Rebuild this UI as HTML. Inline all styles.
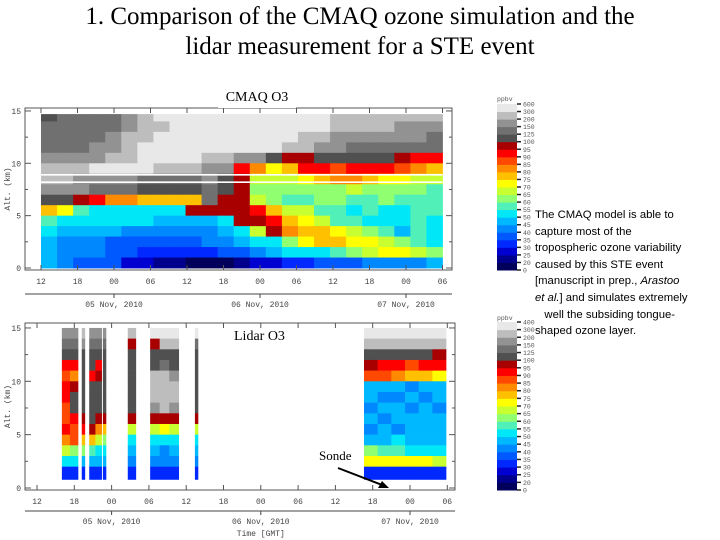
<!DOCTYPE html>
<html><head><meta charset="utf-8"><style>
body{margin:0;background:#fff;width:720px;height:540px;overflow:hidden;position:relative;font-family:"Liberation Serif",serif}
.title{position:absolute;left:0;width:720px;text-align:center;font-size:25px;color:#000;line-height:30px;top:2px}
.note{position:absolute;left:535px;top:207px;font-family:"Liberation Sans",sans-serif;font-size:11.3px;line-height:16.6px;color:#000;white-space:nowrap}
svg{position:absolute;left:0;top:0}
</style></head><body>
<div class="title">1. Comparison of the CMAQ ozone simulation and the<br>lidar measurement for a STE event</div>
<div class="note">The CMAQ model is able to<br>capture most of the<br>tropospheric ozone variability<br>caused by this STE event<br>[manuscript in prep., <i>Arastoo</i><br><i>et al.</i>] and simulates extremely<br>&nbsp;&nbsp;&nbsp;well the subsiding tongue-<br>shaped ozone layer.</div>
<svg id="svg" width="720" height="540" xmlns="http://www.w3.org/2000/svg"></svg>
<script>
const levelColors=["#00005a","#00008c","#0000d0","#0028ff","#0058ff","#0088ff","#00b8ff","#00e8f8","#50f0b8","#90ff70","#c8ff30","#ffff00","#ffc000","#ff8a00","#ff4800","#ff0000","#a80000","#505050","#707070","#929292","#bdbdbd","#e8e8e8"];
const levelChars="0123456789ABCDEFGHIJKL";
const topLabels=["600","300","200","150","125","100","95","90","85","80","75","70","65","60","55","50","45","40","35","30","25","20","0"];
const botLabels=["400","300","200","150","125","100","95","90","85","80","75","70","65","60","55","50","45","40","35","30","25","20","0"];
const timeTicks=["12","18","00","06","12","18","00","06","12","18","00","06"];
const dateLabels=["05 Nov, 2010","06 Nov, 2010","07 Nov, 2010"];
const altTicks=[0,5,10,15];
const cmaqRows=[
"HIIIIJKLLLLLLLLLLLKKKKKKK",
"IIIIIJKKLLLLLLLLLLKKKKJJJ",
"IIIIJKKLLLLLLLLLKKJJJJJJI",
"IIIJJKLLLLLLLLLKKJJIIIIII",
"JJJJKKLLLLKKJJHGGHHHHHGFF",
"KKKLLLLKKKJJFDBCFFEFFFEDC",
"KKJJJJIIIIJHGAAABCDDCBBAA",
"JJJIIIHHHHIHG999999A99998",
"HHGFDDCCCCIGGA98899889888",
"CB8777777GGGGFCAA88787788",
"877777766667GGFCBA8877787",
"7666655555567AGDCCBA98687",
"6555444444556779BCCBBA987",
"65554433333445677789ABBA9",
"6544422110001223344455556"];
const lidarSegments=[
[4.0,6.6,["JIHFEFFEEFDA73","JIHFDGHHFEE973"]],
[7.2,7.7,["KJHHHHHHGFC963"]],
[8.4,10.4,["JIHHFHHHHGC863","JIHFGHHHGDA763"]],
[10.6,11.1,["JIHHHHHHGC9763"]],
[14.6,15.9,["KGHHHHHHGA7653"]],
[18.2,22.8,["LGHHKKKJGA7653","LKHIKKKKGB7553","LKHHJKKJGA7653"]],
[25.4,25.9,["LIHHHHHHGA7653"]],
[52.6,65.8,["LKHGE6656569B3","LKHFE6565668B3","LKHFD6566578B3","LKHEC5656667B3","LKHFC6566667B3","LKGFB6656667A3"]]
];
const S=document.getElementById('svg');
const NS="http://www.w3.org/2000/svg";
function mk(tag,attrs,parent){const e=document.createElementNS(NS,tag);for(const k in attrs)e.setAttribute(k,attrs[k]);(parent||S).appendChild(e);return e;}
function col(ch){return levelColors[levelChars.indexOf(ch)];}

function drawAxes(g,box,xOf,yOf,dateY,showTime){
  const f=mk('rect',{x:box.x0,y:box.y0,width:box.x1-box.x0,height:box.y1-box.y0,fill:'none',stroke:'#555','stroke-width':1},g);
  
  altTicks.forEach(a=>{const y=yOf(a);
    mk('line',{x1:box.x0,x2:box.x0+6,y1:y,y2:y,stroke:'#555'},g);
    mk('line',{x1:box.x1,x2:box.x1-6,y1:y,y2:y,stroke:'#555'},g);
    const t=mk('text',{x:box.x0-4,y:y+3,'font-size':8,'text-anchor':'end',fill:'#444','font-family':'Liberation Mono,monospace'},g);
    t.textContent=a;
    if(a<15){const y2=yOf(a+2.5);mk('line',{x1:box.x0,x2:box.x0+3,y1:y2,y2:y2,stroke:'#555'},g);mk('line',{x1:box.x1,x2:box.x1-3,y1:y2,y2:y2,stroke:'#555'},g);}
  });
  timeTicks.forEach((lab,i)=>{const x=xOf(i*6);
    mk('line',{x1:x,x2:x,y1:box.y1,y2:box.y1-5,stroke:'#555'},g);
    mk('line',{x1:x,x2:x,y1:box.y0,y2:box.y0+5,stroke:'#555'},g);
    const t=mk('text',{x:x,y:box.y1+14,'font-size':8,'text-anchor':'middle',fill:'#444','font-family':'Liberation Mono,monospace'},g);
    t.textContent=lab;
  });
  mk('line',{x1:box.x0,x2:box.x1,y1:dateY,y2:dateY,stroke:'#444'},g);
  [12,36,60].forEach(h=>mk('line',{x1:xOf(h),x2:xOf(h),y1:dateY,y2:dateY+4,stroke:'#444'},g));
  dateLabels.forEach((d,i)=>{const t=mk('text',{x:xOf(i*24+12),y:dateY+13,'font-size':8,'text-anchor':'middle',fill:'#444','font-family':'Liberation Mono,monospace'},g);
    t.textContent=d;});
  const yl=mk('text',{x:0,y:0,'font-size':8,'text-anchor':'middle',fill:'#444','font-family':'Liberation Mono,monospace',transform:`translate(10,${(box.y0+box.y1)/2}) rotate(-90)`},g);
  yl.textContent='Alt. (km)';
  if(showTime){const t=mk('text',{x:(xOf(36)),y:dateY+25,'font-size':8,'text-anchor':'middle',fill:'#444','font-family':'Liberation Mono,monospace'},g);
    t.textContent='Time [GMT]';}
}
function drawColorbar(g,x,y0,y1,labels,unitY){
  const n=levelColors.length,h=(y1-y0)/n;
  for(let i=0;i<n;i++){const r=mk('rect',{x:x,y:y1-(i+1)*h,width:20,height:h+0.5,fill:levelColors[i]},g);
    }
  labels.forEach((l,i)=>{const y=y0+i*h;
    mk('line',{x1:x+20,x2:x+24,y1:y,y2:y,stroke:'#222','stroke-width':1.5},g);
    const t=mk('text',{x:x+26,y:y+2.5,'font-size':6.5,fill:'#555','font-family':'Liberation Mono,monospace'},g);
    t.textContent=l;});
  const u=mk('text',{x:x,y:unitY,'font-size':6.5,fill:'#555','font-family':'Liberation Mono,monospace'},g);
  u.textContent='ppbv';
}

const g1=mk('g',{});
const box1={x0:25,x1:452,y0:108,y1:270};
const xA=h=>41+h*36.5/6, yA=a=>268-a*10.47;
const nC=cmaqRows[0].length, dh=66/nC;
cmaqRows.forEach((row,ri)=>{const aTop=Math.min(15-ri,14.7),aBot=14-ri;
  for(let c=0;c<nC;c++){const r=mk('rect',{x:xA(c*dh),y:yA(aTop),width:xA((c+1)*dh)-xA(c*dh)+0.4,height:yA(aBot)-yA(aTop)+0.4,fill:col(row[c])},g1);
    }});
[8.9,8.2].forEach(a=>mk('line',{x1:xA(0),x2:xA(66),y1:yA(a),y2:yA(a),stroke:'#fff','stroke-width':1.6},g1));
drawAxes(g1,box1,xA,yA,294,false);
drawColorbar(g1,497,104,270,topLabels,101);

const g2=mk('g',{});
const box2={x0:25,x1:455,y0:323,y1:490};
const xB=h=>37+h*37.3/6, yB=a=>488-a*10.67;
lidarSegments.forEach(seg=>{const [h0,h1,profs]=seg;const w=(h1-h0)/profs.length;
  profs.forEach((p,pi)=>{for(let k=0;k<p.length;k++){const aTop=15-k,aBot=(k==p.length-1)?0.8:14-k;
    const r=mk('rect',{x:xB(h0+pi*w),y:yB(aTop),width:xB(h0+(pi+1)*w)-xB(h0+pi*w)+0.3,height:yB(aBot)-yB(aTop)+0.3,fill:col(p[k])},g2);
    }});});
drawAxes(g2,box2,xB,yB,511,true);
drawColorbar(g2,497,322,490,botLabels,320);
</script>
<div style="position:absolute;left:218px;top:87px;width:78px;height:21px;background:#fff;text-align:center;font-size:14px;line-height:21px">CMAQ O3</div>
<div style="position:absolute;left:234px;top:329px;font-size:14px">Lidar O3</div>
<div style="position:absolute;left:319px;top:448px;font-size:13px">Sonde</div>
<svg width="720" height="540" style="position:absolute;left:0;top:0">
<line x1="338" y1="468" x2="382" y2="485" stroke="#000" stroke-width="2"/>
<polygon points="389,488 378,488 382,481" fill="#000"/>
</svg>
</body></html>
